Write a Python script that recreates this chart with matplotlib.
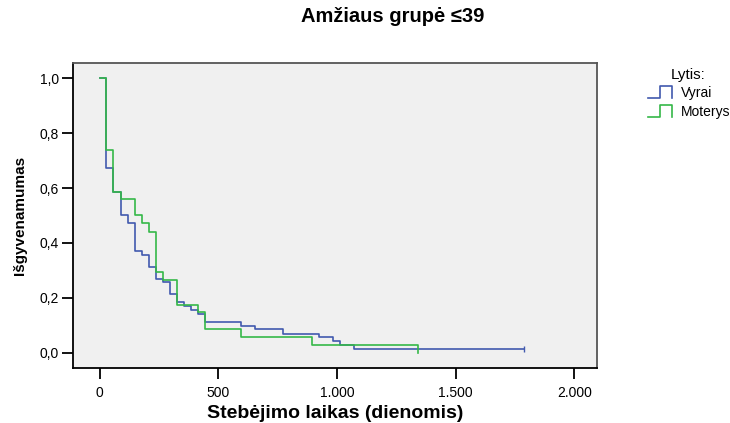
import matplotlib
matplotlib.use("Agg")
import matplotlib.pyplot as plt
from matplotlib.lines import Line2D
from matplotlib.ticker import FuncFormatter

plt.rcParams['font.family'] = ['Liberation Sans', 'DejaVu Sans']

# === DATA ===
vyrai_days = [0, 29, 58, 89, 119, 148, 178, 207, 238, 267, 297, 326, 357, 387,
              416, 446, 596, 655, 774, 924, 983, 1013, 1073, 1787]
vyrai_surv = [1.0, 0.672, 0.587, 0.500, 0.472, 0.371, 0.356, 0.313, 0.270, 0.257,
              0.213, 0.184, 0.170, 0.156, 0.141, 0.113, 0.099, 0.085, 0.070,
              0.056, 0.041, 0.027, 0.012, 0.012]

moterys_days = [0, 29, 58, 89, 148, 178, 207, 238, 267, 326, 416, 446, 596, 893, 1341]
moterys_surv = [1.0, 0.737, 0.587, 0.559, 0.500, 0.472, 0.440, 0.293, 0.264,
                0.175, 0.148, 0.088, 0.058, 0.028, 0.0]

x_ticks = [0, 500, 1000, 1500, 2000]
y_ticks = [0.0, 0.2, 0.4, 0.6, 0.8, 1.0]

blue = '#4159ae'
green = '#35b848'

# === PLOT ===
fig = plt.figure(figsize=(7.3, 4.23), dpi=100)
ax = fig.add_axes([73 / 730, 1 - 368 / 423, 524 / 730, 305 / 423])
ax.set_facecolor('#f0f0f0')

ax.step(vyrai_days, vyrai_surv, where='post', color=blue, lw=1.2)
ax.plot(vyrai_days[-1], vyrai_surv[-1], marker='|', color=blue, ms=4, mew=1.0)
ax.step(moterys_days, moterys_surv, where='post', color=green, lw=1.2)

ax.set_xlim(-112, 2096)
ax.set_ylim(-0.0556, 1.0556)
ax.set_xticks(x_ticks)
ax.set_yticks(y_ticks)
ax.xaxis.set_major_formatter(FuncFormatter(lambda v, p: f"{int(v):,}".replace(",", ".")))
ax.yaxis.set_major_formatter(FuncFormatter(lambda v, p: f"{v:.1f}".replace(".", ",")))
ax.tick_params(length=8, width=1.3, labelsize=10, colors='black')
ax.tick_params(axis='x', pad=5)
ax.tick_params(axis='y', pad=2)

for side in ['left', 'bottom']:
    ax.spines[side].set_color('black')
    ax.spines[side].set_linewidth(1.3)
for side in ['top', 'right']:
    ax.spines[side].set_color('#555555')
    ax.spines[side].set_linewidth(1.3)

ax.set_xlabel("Stebėjimo laikas (dienomis)", fontsize=14, fontweight='bold', va='center')
ax.xaxis.set_label_coords(0.5, (368 - 413) / 305)
ax.set_ylabel("Išgyvenamumas", fontsize=11, fontweight='bold', va='center')
ax.yaxis.set_label_coords((20 - 73) / 524, 0.5)
fig.text(393 / 730, 1 - 17 / 423, "Amžiaus grupė ≤39", fontsize=14.5,
         fontweight='bold', ha='center', va='center')

# --- legend drawn by hand (step icons like SPSS) ---
def fx(px):
    return px / 730

def fy(py):
    return 1 - py / 423

fig.text(fx(688), fy(75), "Lytis:", fontsize=11, ha='center', va='center')
for label, color, y0, ty in [("Vyrai", blue, 98, 93), ("Moterys", green, 117, 112)]:
    xs = [648, 660, 660, 672, 672]
    ys = [y0, y0, y0 - 11.5, y0 - 11.5, y0]
    fig.add_artist(Line2D([fx(v) for v in xs], [fy(v) for v in ys],
                          color=color, lw=1.2, transform=fig.transFigure))
    fig.text(fx(681), fy(ty), label, fontsize=10, ha='left', va='center')

fig.savefig("out.png", dpi=100)
